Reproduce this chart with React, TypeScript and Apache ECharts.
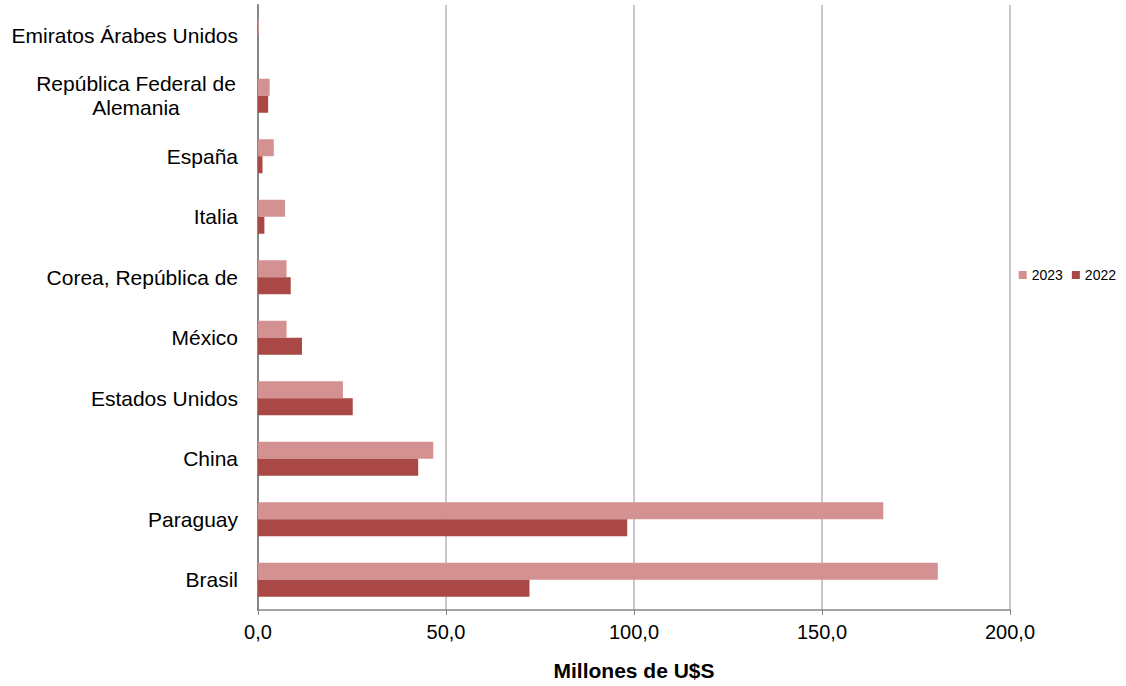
import React, { useEffect, useRef } from "react";
import * as echarts from "echarts";

const categories = [
  "Brasil",
  "Paraguay",
  "China",
  "Estados Unidos",
  "México",
  "Corea, República de",
  "Italia",
  "España",
  "República Federal de Alemania",
  "Emiratos Árabes Unidos",
];
const values2023 = [180.8, 166.3, 46.6, 22.6, 7.6, 7.6, 7.2, 4.2, 3.1, 0.2];
const values2022 = [72.2, 98.2, 42.6, 25.2, 11.7, 8.7, 1.7, 1.2, 2.7, 0.0];
const xTicks = [0, 50, 100, 150, 200];

const FONT = "'Liberation Sans', Arial, sans-serif";

export default function App() {
  const ref = useRef<HTMLDivElement>(null);
  useEffect(() => {
    document.body.style.margin = "0";
    const chart = echarts.init(ref.current!, null, { renderer: "svg" });
    chart.setOption({
      animation: false,
      backgroundColor: "#ffffff",
      textStyle: { fontFamily: FONT },
      legend: {
        data: ["2023", "2022"],
        right: 5,
        top: 263,
        itemWidth: 8,
        itemHeight: 8,
        itemGap: 9,
        icon: "rect",
        textStyle: { fontSize: 14, color: "#000", fontFamily: FONT },
      },
      grid: { left: 258, right: 116, top: 5, bottom: 72, containLabel: false },
      xAxis: {
        type: "value",
        min: xTicks[0],
        max: xTicks[xTicks.length - 1],
        interval: 50,
        name: "Millones de U$S",
        nameLocation: "middle",
        nameGap: 50,
        nameTextStyle: { fontSize: 21, fontWeight: "bold", color: "#000", fontFamily: FONT },
        axisLine: { show: true, lineStyle: { color: "#868686", width: 1.5 } },
        axisTick: { show: true, length: 5, lineStyle: { color: "#868686" } },
        axisLabel: {
          fontSize: 20,
          color: "#000",
          margin: 12,
          fontFamily: FONT,
          formatter: (v: number) => v.toFixed(1).replace(".", ","),
        },
        splitLine: { show: true, lineStyle: { color: "#c8c8c8", width: 2 } },
      },
      yAxis: {
        type: "category",
        data: categories,
        axisLine: { show: true, lineStyle: { color: "#868686", width: 2 } },
        axisTick: { show: false },
        axisLabel: {
          fontSize: 21,
          color: "#000",
          margin: 20,
          fontFamily: FONT,
          formatter: (v: string) =>
            v === "República Federal de Alemania"
              ? "{c|República Federal de}\n{c|Alemania}"
              : v,
          rich: {
            c: {
              width: 204,
              align: "center",
              fontSize: 21,
              color: "#000",
              fontFamily: FONT,
              lineHeight: 24,
            },
          },
        },
      },
      series: [
        {
          name: "2023",
          type: "bar",
          data: values2023,
          barWidth: 17,
          barGap: "0%",
          itemStyle: { color: "#d39291" },
        },
        {
          name: "2022",
          type: "bar",
          data: values2022,
          barWidth: 17,
          barGap: "0%",
          itemStyle: { color: "#a94845" },
        },
      ],
    });
    return () => chart.dispose();
  }, []);
  return (
    <div
      ref={ref}
      style={{ position: "absolute", left: 0, top: 0, width: 1126, height: 686 }}
    />
  );
}
